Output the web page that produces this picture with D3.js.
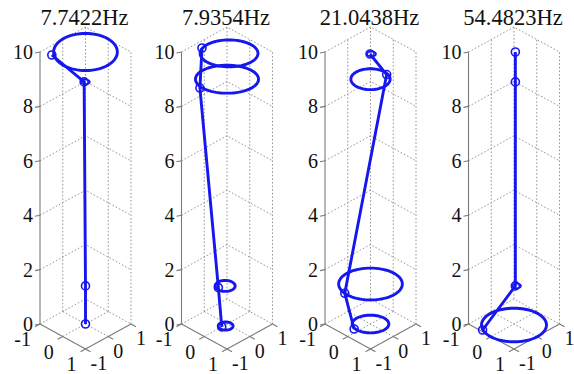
<!DOCTYPE html>
<html>
<head>
<meta charset="utf-8">
<script src="https://cdn.jsdelivr.net/npm/d3@7"></script>
<style>
html,body{margin:0;padding:0;background:#fff;}
svg{display:block;}
text{font-family:"Liberation Serif","Times New Roman",serif;fill:#111;}
</style>
</head>
<body>
<svg id="chart" width="574" height="374"></svg>
<script>
// ---- data ----
const titles = ["7.7422Hz", "7.9354Hz", "21.0438Hz", "54.4823Hz"];
const zTicks = [0, 2, 4, 6, 8, 10];
const hTicks = [-1, 0, 1];
const nodeZ = [0, 1.4, 8.9, 10];
const nodeA = [
  [0, 0, -0.03, -0.62],
  [0, -0.12, -0.35, -0.71],
  [-0.16, -0.27, 0.06, 0.07],
  [-0.45, 0.03, 0.03, 0.03]
];
const nodeB = [
  [0, 0, -0.03, -0.86],
  [-0.23, -0.26, -0.84, -0.39],
  [-0.56, -0.86, 0.65, -0.09],
  [-0.93, 0.03, 0.03, 0.03]
];
const orbitZ  = [[8.9, 10], [0, 1.4, 9.0, 10], [0, 1.47, 9.0, 10], [0, 1.4]];
const orbitCA = [[0.0, 0], [0.05, -0.04, 0, 0.1], [0, 0, 0, 0.1], [0.04, 0.06]];
const orbitCB = [[0.0, 0], [-0.11, -0.04, 0, -0.01], [0, 0, 0, -0.06], [-0.04, 0.06]];
const orbitRU = [[0.13, 0.99], [0.23, 0.31, 0.98, 0.9], [0.57, 0.99, 0.61, 0.14], [1.01, 0.13]];
const orbitRV = [[0.13, 1.05], [0.23, 0.31, 0.79, 0.76], [0.5, 0.9, 0.59, 0.14], [0.95, 0.13]];

// ---- layout ----
const svg = d3.select("#chart");
const leftX = [40, 181.5, 325, 468.5];
const halfW = 45.5;
const y0 = 324;
const BLUE = "#1616ee";

const zScale = d3.scaleLinear().domain([0, 10]).range([0, 272]);
const hx = d3.scaleLinear().domain([-1, 1]).range([-halfW / 2, halfW / 2]);
const hy = d3.scaleLinear().domain([-1, 1]).range([-12.5, 12.5]);

leftX.forEach((lx, p) => {
  const cx = lx + halfW;
  const proj = (a, b, z) => [cx + hx(a) + hx(b), y0 + hy(a) - hy(b) - zScale(z)];
  const g = svg.append("g");
  const line = d3.line().x(d => proj(d[0], d[1], d[2])[0]).y(d => proj(d[0], d[1], d[2])[1]);
  const closed = d3.line().x(d => proj(d[0], d[1], d[2])[0]).y(d => proj(d[0], d[1], d[2])[1])
    .curve(d3.curveLinearClosed);

  // grid (dotted)
  const grid = g.append("g").attr("stroke", "#8a8a8a").attr("stroke-width", 0.9)
    .attr("stroke-dasharray", "1.6,2").attr("fill", "none");
  zTicks.forEach(z => {
    grid.append("path").attr("d", line([[-1, -1, z], [-1, 1, z], [1, 1, z]]));
  });
  [[-1, 0], [-1, 1], [0, 1], [1, 1]].forEach(([a, b]) => {
    grid.append("path").attr("d", line([[a, b, 0], [a, b, 10]]));
  });
  grid.append("path").attr("d", line([[0, -1, 0], [0, 1, 0]]));
  grid.append("path").attr("d", line([[-1, 0, 0], [1, 0, 0]]));

  // axes (solid)
  const ax = g.append("g").attr("stroke", "#7a7a7a").attr("stroke-width", 1.1).attr("fill", "none");
  ax.append("path").attr("d", line([[-1, -1, 0], [-1, -1, 10]]));
  ax.append("path").attr("d", line([[-1, -1, 0], [1, -1, 0]]));
  ax.append("path").attr("d", line([[1, -1, 0], [1, 1, 0]]));
  hTicks.forEach(t => {
    ax.append("path").attr("d", line([[t, -1, 0], [t, -1.22, 0]]));
    ax.append("path").attr("d", line([[1, t, 0], [1.22, t, 0]]));
  });
  zTicks.forEach(z => {
    const [x, y] = proj(-1, -1, z);
    ax.append("line").attr("x1", x).attr("y1", y).attr("x2", x - 5).attr("y2", y + 1);
  });

  // tick labels
  zTicks.forEach(z => {
    const [x, y] = proj(-1, -1, z);
    g.append("text").attr("x", x - 7).attr("y", y).attr("dy", "0.35em")
      .attr("text-anchor", "end").attr("font-size", 20).text(z);
  });
  hTicks.forEach(t => {
    const [xa, ya] = proj(t, -1, 0);
    g.append("text").attr("x", xa - 9).attr("y", ya + 15).attr("dy", "0.35em")
      .attr("text-anchor", "end").attr("font-size", 20).text(t);
    const [xb, yb] = proj(1, t, 0);
    g.append("text").attr("x", xb + 5).attr("y", yb + 14).attr("dy", "0.35em")
      .attr("text-anchor", "start").attr("font-size", 20).text(t);
  });

  // title
  g.append("text").attr("x", cx - 1).attr("y", 25).attr("text-anchor", "middle")
    .attr("font-size", 22.5).text(titles[p]);

  // orbits
  const thetas = d3.range(0, 360, 5).map(d => d * Math.PI / 180);
  orbitZ[p].forEach((z, i) => {
    const pts = thetas.map(t => {
      const u = orbitRU[p][i] * Math.cos(t), v = orbitRV[p][i] * Math.sin(t);
      return [orbitCA[p][i] + (u + v) / Math.SQRT2, orbitCB[p][i] + (u - v) / Math.SQRT2, z];
    });
    const small = orbitRU[p][i] < 0.2;
    g.append("path").attr("d", closed(pts))
      .attr("fill", "none").attr("stroke", BLUE).attr("stroke-width", small ? 1.8 : 2.9);
  });

  // mode line
  const nodes = nodeZ.map((z, i) => [nodeA[p][i], nodeB[p][i], z]);
  g.append("path").attr("d", line(nodes)).attr("fill", "none")
    .attr("stroke", BLUE).attr("stroke-width", 2.9).attr("stroke-linejoin", "round");

  // markers
  nodes.forEach(n => {
    const [x, y] = proj(n[0], n[1], n[2]);
    g.append("circle").attr("cx", x).attr("cy", y).attr("r", 4)
      .attr("fill", "none").attr("stroke", BLUE).attr("stroke-width", 1.6);
  });
});
</script>
</body>
</html>
